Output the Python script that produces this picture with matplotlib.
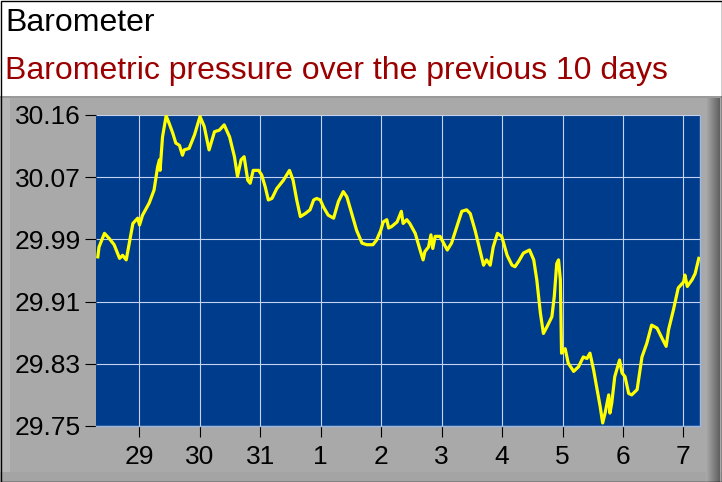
import numpy as np
import matplotlib
matplotlib.use("Agg")
import matplotlib.pyplot as plt
from matplotlib.patches import Rectangle

plt.rcParams['font.family'] = ['Liberation Sans', 'DejaVu Sans']

# Data: time in days from the start of the 10-day window, pressure in inHg
days = [0.03, 0.05, 0.14, 0.22, 0.30, 0.39, 0.44, 0.50, 0.55, 0.61,
        0.69, 0.72, 0.77, 0.88, 0.96, 1.02, 1.05, 1.06, 1.10, 1.16,
        1.21, 1.27, 1.32, 1.38, 1.43, 1.46, 1.54, 1.63, 1.72, 1.79,
        1.87, 1.96, 2.04, 2.12, 2.21, 2.29, 2.34, 2.40, 2.45, 2.51,
        2.55, 2.60, 2.69, 2.74, 2.80, 2.85, 2.91, 2.99, 3.10, 3.20,
        3.26, 3.32, 3.38, 3.46, 3.54, 3.60, 3.65, 3.71, 3.76, 3.84,
        3.93, 4.01, 4.09, 4.15, 4.23, 4.31, 4.40, 4.48, 4.58, 4.64,
        4.71, 4.75, 4.81, 4.84, 4.89, 4.98, 5.05, 5.08, 5.14, 5.19,
        5.28, 5.36, 5.41, 5.44, 5.50, 5.54, 5.57, 5.61, 5.69, 5.75,
        5.81, 5.88, 5.97, 6.05, 6.13, 6.19, 6.27, 6.35, 6.41, 6.46,
        6.52, 6.57, 6.64, 6.71, 6.80, 6.88, 6.93, 6.99, 7.07, 7.17,
        7.24, 7.29, 7.35, 7.40, 7.46, 7.54, 7.58, 7.62, 7.65, 7.68,
        7.70, 7.76, 7.81, 7.90, 7.98, 8.06, 8.12, 8.17, 8.23, 8.28,
        8.34, 8.38, 8.42, 8.48, 8.50, 8.53, 8.58, 8.66, 8.70, 8.75,
        8.81, 8.86, 8.95, 9.03, 9.11, 9.19, 9.28, 9.36, 9.43, 9.47,
        9.55, 9.63, 9.72, 9.74, 9.78, 9.86, 9.91, 9.97]
pressure = [29.969, 29.982, 30.000, 29.993, 29.985, 29.967, 29.971, 29.965, 29.987, 30.013,
            30.020, 30.011, 30.024, 30.040, 30.057, 30.088, 30.097, 30.083, 30.127, 30.155,
            30.145, 30.132, 30.119, 30.116, 30.103, 30.110, 30.112, 30.130, 30.154, 30.141,
            30.110, 30.134, 30.136, 30.143, 30.127, 30.101, 30.075, 30.097, 30.101, 30.070,
            30.066, 30.083, 30.083, 30.077, 30.061, 30.044, 30.046, 30.059, 30.070, 30.083,
            30.070, 30.044, 30.022, 30.026, 30.031, 30.044, 30.046, 30.044, 30.035, 30.024,
            30.020, 30.042, 30.055, 30.048, 30.026, 30.004, 29.987, 29.985, 29.985, 29.991,
            30.004, 30.015, 30.018, 30.007, 30.009, 30.015, 30.029, 30.013, 30.018, 30.013,
            30.000, 29.978, 29.965, 29.976, 29.982, 29.998, 29.980, 29.996, 29.996, 29.987,
            29.978, 29.987, 30.009, 30.029, 30.031, 30.026, 30.004, 29.978, 29.958, 29.965,
            29.958, 29.982, 30.000, 29.996, 29.971, 29.958, 29.956, 29.963, 29.974, 29.978,
            29.965, 29.939, 29.895, 29.868, 29.877, 29.890, 29.917, 29.960, 29.965, 29.939,
            29.842, 29.848, 29.829, 29.818, 29.824, 29.837, 29.835, 29.842, 29.820, 29.798,
            29.771, 29.750, 29.763, 29.787, 29.763, 29.776, 29.811, 29.833, 29.816, 29.811,
            29.789, 29.787, 29.794, 29.837, 29.855, 29.879, 29.875, 29.862, 29.851, 29.873,
            29.899, 29.928, 29.936, 29.945, 29.930, 29.939, 29.947, 29.967]

day_labels = ['29', '30', '31', '1', '2', '3', '4', '5', '6', '7']
first_tick = 0.716
y_min, y_max = 29.746, 30.156

title = "Barometer"
subtitle = "Barometric pressure over the previous 10 days"

fig = plt.figure(figsize=(7.22, 4.82), dpi=100, facecolor='#A9A9A9')
W, H = 722.0, 482.0

# panel decoration (header box, shaded edges, border)
fig.patches.append(Rectangle((0, 1 - 97 / H), 1, 97 / H, transform=fig.transFigure,
                             facecolor='white', edgecolor='none', zorder=0))
fig.patches.append(Rectangle((0, 0), 10 / W, 1 - 97 / H, transform=fig.transFigure,
                             facecolor='#B6B6B6', edgecolor='none', zorder=0))
fig.patches.append(Rectangle((0, 0), 1, 10 / H, transform=fig.transFigure,
                             facecolor='#A4A4A4', edgecolor='none', zorder=0))
shade = np.linspace(0.66, 0.38, 14)
for i, g in enumerate(shade):
    fig.patches.append(Rectangle(((706 + i) / W, 0), 1 / W, 1 - 97 / H,
                                 transform=fig.transFigure, facecolor=str(g),
                                 edgecolor='none', zorder=0))
fig.patches.append(Rectangle((0, 1 - 98 / H), 1, 2 / H, transform=fig.transFigure,
                             facecolor='#999999', edgecolor='none', zorder=0))
fig.patches.append(Rectangle((0.5 / W, 0.5 / H), 1 - 1 / W, 1 - 1 / H,
                             transform=fig.transFigure, facecolor='none',
                             edgecolor='black', linewidth=1, zorder=5))

fig.text(5 / W, 1 - 31 / H, title, fontsize=23, color='black', va='baseline')
fig.text(5 / W, 1 - 79 / H, subtitle, fontsize=23, color='#9B0000', va='baseline')

ax = fig.add_axes([96 / W, 1 - 426 / H, 604 / W, 311 / H])
ax.set_facecolor('#003C8C')
ax.plot(days, pressure, color='#FFFF00', linewidth=2.3, zorder=3)

ax.set_xlim(0, 9.99)
ax.set_ylim(y_min, y_max)
xt = [first_tick + k for k in range(len(day_labels))]
ax.set_xticks(xt)
ax.set_xticklabels(day_labels)
yt = np.linspace(y_min, y_max, 6)
ax.set_yticks(yt)
ax.set_yticklabels(['%.2f' % v for v in yt])
ax.grid(True, color='#C4D4F0', linewidth=0.8, zorder=1)
ax.tick_params(axis='both', colors='black', length=8, width=0.8, labelsize=19)
ax.tick_params(axis='x', pad=6)
ax.tick_params(axis='y', pad=3)

for s in ['top', 'left']:
    ax.spines[s].set_visible(False)
for s in ['right', 'bottom']:
    ax.spines[s].set_color('#9DB8E0')
    ax.spines[s].set_linewidth(1)

fig.savefig('out.png', dpi=100, facecolor=fig.get_facecolor())
